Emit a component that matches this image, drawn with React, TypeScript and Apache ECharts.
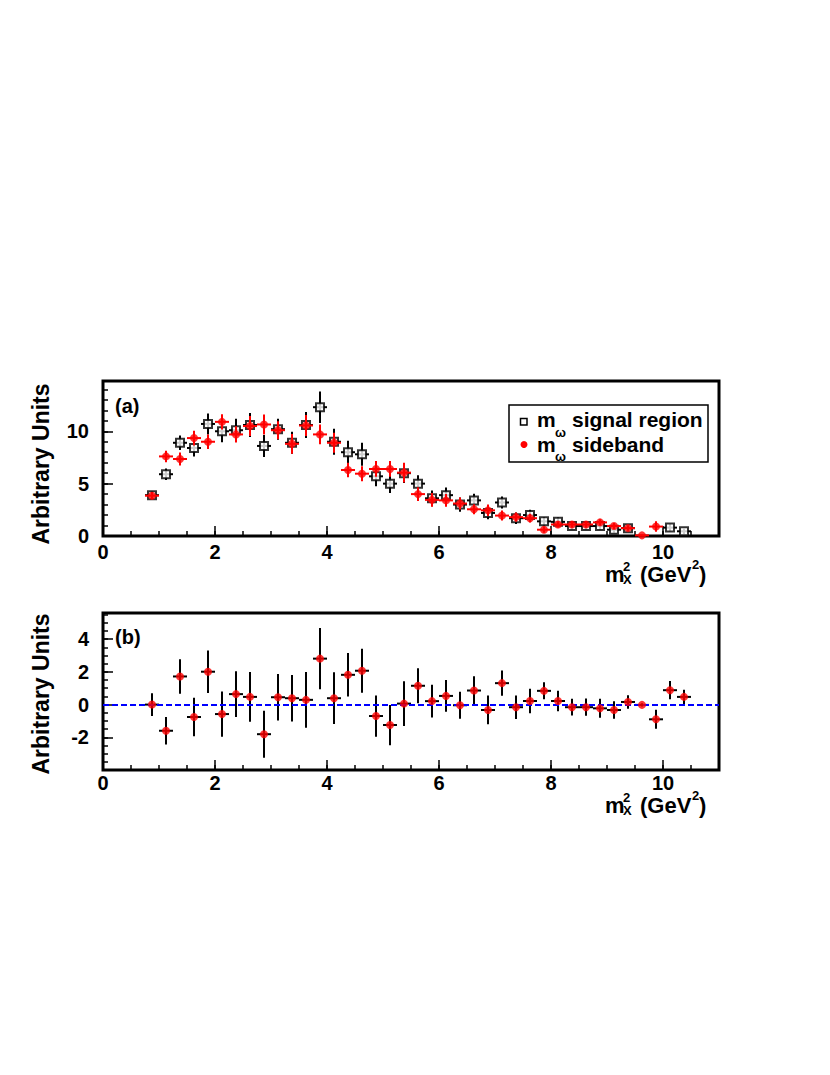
import React, { useEffect, useRef } from "react";
import * as echarts from "echarts";

// ---- data ----
const binCenters = [
  0.875, 1.125, 1.375, 1.625, 1.875, 2.125, 2.375, 2.625, 2.875, 3.125,
  3.375, 3.625, 3.875, 4.125, 4.375, 4.625, 4.875, 5.125, 5.375, 5.625,
  5.875, 6.125, 6.375, 6.625, 6.875, 7.125, 7.375, 7.625, 7.875, 8.125,
  8.375, 8.625, 8.875, 9.125, 9.375, 9.625, 9.875, 10.125, 10.375,
];
const signalValues = [
  3.9, 5.9, 8.9, 8.4, 10.7, 10.0, 10.1, 10.6, 8.6, 10.2,
  8.9, 10.6, 12.3, 9.0, 8.0, 7.8, 5.7, 5.0, 6.0, 5.0,
  3.6, 3.9, 3.0, 3.4, 2.2, 3.2, 1.7, 2.0, 1.4, 1.35,
  0.95, 0.95, 0.95, 0.6, 0.75, null, null, 0.8, 0.45,
];
const signalErrors = [
  0.4, 0.55, 0.7, 0.8, 1.0, 1.05, 1.1, 1.15, 1.05, 1.0,
  1.05, 1.25, 1.5, 1.25, 1.1, 1.1, 0.95, 0.9, 0.95, 0.8,
  0.75, 0.72, 0.68, 0.64, 0.6, 0.58, 0.55, 0.5, 0.42, 0.42,
  0.35, 0.35, 0.35, 0.3, 0.3, null, null, 0.35, 0.25,
];
const sidebandValues = [
  3.85, 7.6, 7.35, 9.35, 9.0, 10.9, 9.7, 10.5, 10.65, 10.1,
  8.8, 10.55, 9.7, 8.9, 6.3, 5.95, 6.4, 6.4, 6.05, 4.0,
  3.45, 3.4, 3.1, 2.55, 2.45, 1.95, 1.8, 1.7, 0.6, 1.1,
  1.1, 1.1, 1.3, 0.95, 0.75, 0.06, 0.9, null, null,
];
const sidebandErrors = [
  0.35, 0.55, 0.62, 0.7, 0.7, 0.72, 0.78, 0.95, 0.95, 0.85,
  0.95, 1.0, 0.95, 0.95, 0.7, 0.72, 0.75, 0.75, 0.95, 0.65,
  0.65, 0.6, 0.58, 0.48, 0.55, 0.48, 0.45, 0.42, 0.3, 0.3,
  0.3, 0.3, 0.3, 0.28, 0.25, 0.06, 0.5, null, null,
];
const diffValues = [
  0.0, -1.6, 1.72, -0.76, 2.01, -0.58, 0.64, 0.47, -1.81, 0.45,
  0.39, 0.29, 2.81, 0.39, 1.82, 2.07, -0.7, -1.25, 0.06, 1.15,
  0.21, 0.53, -0.04, 0.86, -0.33, 1.31, -0.16, 0.22, 0.84, 0.22,
  -0.16, -0.16, -0.23, -0.33, 0.16, -0.02, -0.9, 0.88, 0.47,
];
const diffErrors = [
  0.7, 0.84, 1.05, 1.18, 1.3, 1.38, 1.4, 1.52, 1.44, 1.42,
  1.42, 1.71, 1.87, 1.58, 1.33, 1.35, 1.26, 1.23, 1.37, 1.07,
  1.0, 0.97, 0.82, 0.87, 0.88, 0.77, 0.72, 0.75, 0.52, 0.62,
  0.51, 0.53, 0.58, 0.53, 0.41, 0.1, 0.58, 0.56, 0.43,
];
const binHalfWidth = 0.125;
const zeroLevel = 0;

const FONT = "'Liberation Sans', Arial, Helvetica, sans-serif";

function toTriples(vals: (number | null)[], errs: (number | null)[]) {
  const out: number[][] = [];
  binCenters.forEach((x, i) => {
    const v = vals[i];
    const e = errs[i];
    if (v !== null && v !== undefined) out.push([x, v, e ?? 0]);
  });
  return out;
}

function errRender(color: string) {
  return (_params: any, api: any) => {
    const x = api.value(0);
    const y = api.value(1);
    const e = api.value(2);
    const c = api.coord([x, y]);
    const lo = api.coord([x, y - e]);
    const hi = api.coord([x, y + e]);
    const l = api.coord([x - binHalfWidth, y]);
    const r = api.coord([x + binHalfWidth, y]);
    return {
      type: "group",
      children: [
        {
          type: "line",
          shape: { x1: c[0], y1: lo[1], x2: c[0], y2: hi[1] },
          style: { stroke: color, lineWidth: 2 },
        },
        {
          type: "line",
          shape: { x1: l[0], y1: c[1], x2: r[0], y2: c[1] },
          style: { stroke: color, lineWidth: 2 },
        },
      ],
    };
  };
}

function txt(text: string, x: number, y: number, size: number, extra: any = {}) {
  return {
    type: "text",
    x,
    y,
    silent: true,
    ...extra,
    style: {
      text,
      fontSize: size,
      fontWeight: "bold",
      fontFamily: FONT,
      lineHeight: size,
      fill: extra.fill || "#000",
      align: extra.align || "left",
      verticalAlign: "middle",
    },
  };
}

// baseline -> central y
const cy = (baseline: number, size: number) => baseline - 0.3465 * size;

function xTitle(b: number) {
  return [
    txt("m", 605, cy(b, 22), 22),
    txt("2", 623, cy(b - 11, 13), 13),
    txt("X", 623, cy(b + 2, 13), 13),
    txt("(GeV", 640, cy(b, 22), 22),
    txt("2", 692, cy(b - 13, 13), 13),
    txt(")", 699, cy(b, 22), 22),
  ];
}

const majorTick = { show: true, inside: true, length: 10, lineStyle: { color: "#000", width: 1.5 } };
const minorTickAx = { show: true, inside: true, length: 5, lineStyle: { color: "#000", width: 1.5 } };
const labelStyle = { color: "#000", fontSize: 20, fontWeight: "bold", fontFamily: FONT, lineHeight: 20 };

function xAxes(gridIndex: number, margin: number) {
  return [
    {
      type: "value", gridIndex, min: 0, max: 11, interval: 2, position: "bottom",
      axisLine: { show: false, onZero: false }, splitLine: { show: false },
      axisTick: majorTick,
      axisLabel: { ...labelStyle, margin, showMaxLabel: false },
    },
    {
      type: "value", gridIndex, min: 0, max: 11, interval: 0.5, position: "bottom",
      axisLine: { show: false, onZero: false }, splitLine: { show: false },
      axisTick: minorTickAx, axisLabel: { show: false },
    },
  ];
}

function yAxes(gridIndex: number, min: number, max: number, major: number, minor: number, hideMin: boolean) {
  return [
    {
      type: "value", gridIndex, min, max, interval: major, position: "left",
      axisLine: { show: false, onZero: false }, splitLine: { show: false },
      axisTick: majorTick,
      axisLabel: { ...labelStyle, margin: 14, showMaxLabel: false, showMinLabel: !hideMin },
    },
    {
      type: "value", gridIndex, min, max, interval: minor, position: "left", offset: 0,
      axisLine: { show: false, onZero: false }, splitLine: { show: false },
      axisTick: minorTickAx, axisLabel: { show: false },
    },
  ];
}

export default function App() {
  const ref = useRef<HTMLDivElement>(null);
  useEffect(() => {
    if (!ref.current) return;
    const chart = echarts.init(ref.current, null, { renderer: "svg" });
    const sig = toTriples(signalValues, signalErrors);
    const side = toTriples(sidebandValues, sidebandErrors);
    const diff = toTriples(diffValues, diffErrors);
    const bottomOffset = 231;

    const option: any = {
      animation: false,
      backgroundColor: "#fff",
      grid: [
        { left: 103, top: 381, width: 616, height: 155, show: true, borderColor: "#000", borderWidth: 3, backgroundColor: "transparent" },
        { left: 103, top: 613, width: 616, height: 157, show: true, borderColor: "#000", borderWidth: 3, backgroundColor: "transparent" },
      ],
      xAxis: [...xAxes(0, 6), ...xAxes(1, 3)],
      yAxis: [...yAxes(0, 0, 14.8, 5, 1, false), ...yAxes(1, -4, 5.6, 2, 0.5, true)],
      series: [
        {
          type: "custom", name: "sigErr", xAxisIndex: 0, yAxisIndex: 0, data: sig,
          encode: { x: 0, y: 1 }, renderItem: errRender("#000"), z: 2, silent: true,
        },
        {
          type: "scatter", name: "m_ω signal region", xAxisIndex: 0, yAxisIndex: 0, data: sig,
          symbol: "rect", symbolSize: 8, z: 3, silent: true,
          itemStyle: { color: "#fff", borderColor: "#000", borderWidth: 2 },
        },
        {
          type: "custom", name: "sideErr", xAxisIndex: 0, yAxisIndex: 0, data: side,
          encode: { x: 0, y: 1 }, renderItem: errRender("#ff0000"), z: 4, silent: true,
        },
        {
          type: "scatter", name: "m_ω sideband", xAxisIndex: 0, yAxisIndex: 0, data: side,
          symbol: "circle", symbolSize: 8, z: 5, silent: true,
          itemStyle: { color: "#ff0000" },
        },
        {
          type: "scatter", name: "zero", xAxisIndex: 2, yAxisIndex: 2, data: diff,
          symbolSize: 0, itemStyle: { opacity: 0 }, z: 1, silent: true,
          markLine: {
            silent: true, symbol: "none", label: { show: false },
            lineStyle: { color: "#0000ff", type: [6, 3], width: 2 },
            data: [{ yAxis: zeroLevel }],
          },
        },
        {
          type: "custom", name: "diffErr", xAxisIndex: 2, yAxisIndex: 2, data: diff,
          encode: { x: 0, y: 1 }, renderItem: errRender("#000"), z: 2, silent: true,
        },
        {
          type: "scatter", name: "diff", xAxisIndex: 2, yAxisIndex: 2, data: diff,
          symbol: "circle", symbolSize: 8, z: 5, silent: true,
          itemStyle: { color: "#ff0000" },
        },
      ],
      graphic: [
        txt("Arbitrary Units", 41, 464, 23, { rotation: Math.PI / 2, align: "center" }),
        txt("Arbitrary Units", 41, 694, 23, { rotation: Math.PI / 2, align: "center" }),
        txt("(a)", 115, 406, 20),
        txt("(b)", 115, 406 + bottomOffset, 20),
        ...xTitle(582),
        ...xTitle(582 + bottomOffset),
        {
          type: "rect", silent: true,
          shape: { x: 509, y: 405, width: 199, height: 57 },
          style: { fill: "#fff", stroke: "#000", lineWidth: 1.5 },
        },
        {
          type: "rect", silent: true,
          shape: { x: 520.5, y: 418.5, width: 6.5, height: 6.5 },
          style: { fill: "#fff", stroke: "#000", lineWidth: 1.5 },
        },
        {
          type: "circle", silent: true,
          shape: { cx: 524, cy: 444.5, r: 3.5 },
          style: { fill: "#ff0000" },
        },
        txt("m", 537, cy(427, 21), 21),
        txt("ω", 555, cy(437, 13), 13),
        txt("signal region", 572, cy(427, 21), 21),
        txt("m", 537, cy(452, 21), 21),
        txt("ω", 555, cy(461, 13), 13),
        txt("sideband", 572, cy(452, 21), 21),
      ],
    };
    chart.setOption(option);
    return () => chart.dispose();
  }, []);
  return (
    <div
      ref={ref}
      style={{ position: "absolute", left: 0, top: 0, width: 830, height: 1075, background: "#fff" }}
    />
  );
}
